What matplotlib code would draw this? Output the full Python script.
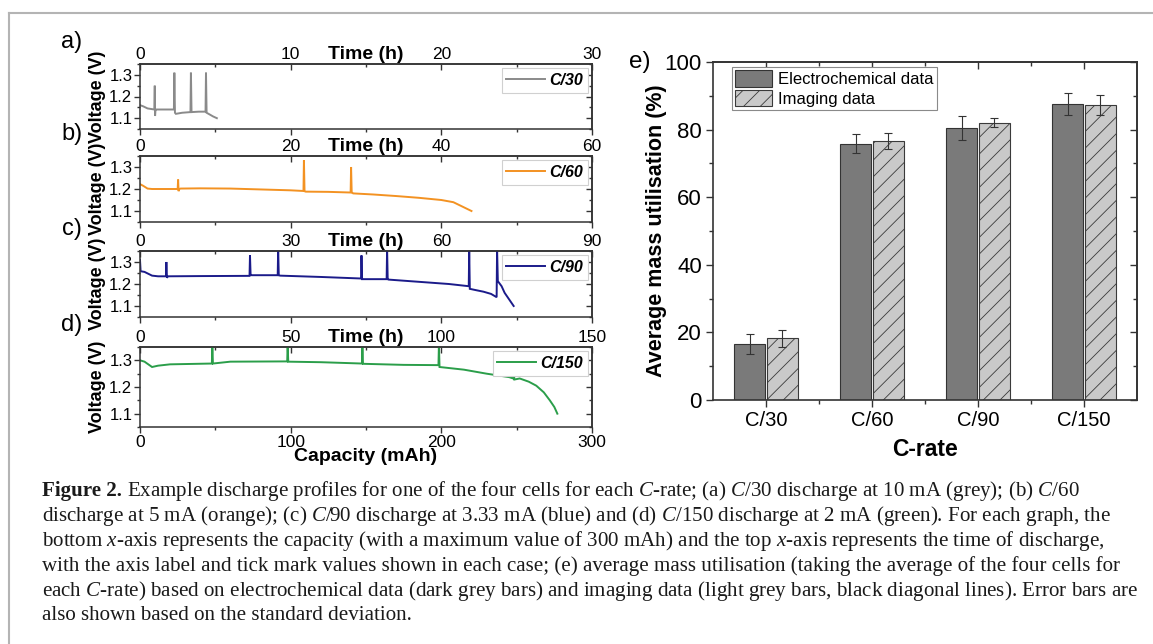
import matplotlib
matplotlib.use('Agg')
import matplotlib.pyplot as plt
from matplotlib.ticker import MultipleLocator, FixedLocator
from matplotlib.lines import Line2D

W, H, DPI = 1153, 644, 100

# ---------------- data ----------------
# (a) C/30
cap_a = [0, 2, 5, 9.5, 9.8, 10.0, 10.3, 11, 16, 22.5, 22.8, 23.2, 23.8, 28, 33.5, 33.8, 34.2, 39,
         43.5, 43.8, 44.2, 46, 48.5, 51]
v_a = [1.16, 1.155, 1.145, 1.14, 1.25, 1.11, 1.14, 1.14, 1.14, 1.14, 1.31, 1.125, 1.12, 1.125,
       1.128, 1.31, 1.128, 1.13, 1.13, 1.31, 1.125, 1.118, 1.108, 1.10]
# (b) C/60
cap_b = [0, 2, 5, 8, 25, 25.3, 25.6, 26.0, 27, 40, 60, 80, 100, 108.5, 108.8, 109.2, 110, 125,
         139.8, 140.1, 140.5, 141.5, 155, 170, 185, 200, 208, 214, 220]
v_b = [1.222, 1.215, 1.202, 1.200, 1.200, 1.243, 1.190, 1.200, 1.202, 1.203, 1.202, 1.198, 1.194,
       1.191, 1.33, 1.19, 1.188, 1.187, 1.184, 1.30, 1.185, 1.18, 1.175, 1.168, 1.16, 1.15, 1.14,
       1.12, 1.10]
# (c) C/90
cap_c = [0, 0.4, 3, 8, 12, 17.2, 17.5, 17.9, 18.5, 40, 72.7, 73.0, 73.4, 74, 91.4, 91.7, 92.1, 93,
         120, 146.7, 147.0, 147.4, 148, 163.7, 164.0, 164.4, 165, 185, 205, 218.2, 218.5, 218.9,
         223, 228, 233, 236.7, 237.0, 237.5, 240, 242, 244.5, 248]
v_c = [1.31, 1.258, 1.255, 1.238, 1.235, 1.235, 1.30, 1.228, 1.235, 1.236, 1.237, 1.33, 1.242,
       1.240, 1.240, 1.36, 1.240, 1.238, 1.232, 1.225, 1.33, 1.222, 1.222, 1.222, 1.36, 1.222, 1.22,
       1.21, 1.20, 1.19, 1.36, 1.178, 1.172, 1.165, 1.155, 1.14, 1.36, 1.213, 1.19, 1.16, 1.135, 1.10]
# (d) C/150
cap_d = [0, 3, 8, 12, 20, 47.7, 48.0, 48.4, 60, 97.7, 98.0, 98.4, 120, 147.3, 147.6, 148.0, 175,
         198.1, 198.4, 198.8, 215, 230, 245, 247.7, 248.0, 248.5, 252, 258, 263, 268, 272, 275, 277]
v_d = [1.30, 1.295, 1.275, 1.280, 1.285, 1.288, 1.36, 1.288, 1.295, 1.296, 1.36, 1.295, 1.293,
       1.288, 1.36, 1.287, 1.283, 1.282, 1.36, 1.275, 1.265, 1.25, 1.237, 1.232, 1.255, 1.228,
       1.232, 1.22, 1.205, 1.18, 1.15, 1.125, 1.10]

rate_labels = ['C/30', 'C/60', 'C/90', 'C/150']
hours_max = [30, 60, 90, 150]
time_ticks = [[0, 10, 20, 30], [0, 20, 40, 60], [0, 30, 60, 90], [0, 50, 100, 150]]
cap_ticks = [0, 100, 200, 300]
volt_ticks = [1.1, 1.2, 1.3]

categories = ['C/30', 'C/60', 'C/90', 'C/150']
electro = [16.5, 75.8, 80.5, 87.6]
electro_err = [2.9, 2.8, 3.5, 3.3]
imaging = [18.2, 76.7, 82.0, 87.3]
imaging_err = [2.5, 2.3, 1.3, 3.0]

caption_head = "Figure 2."
caption_lines = [
    r"Example discharge profiles for one of the four cells for each $\mathit{C}$-rate; (a) $\mathit{C}$/30 discharge at 10 mA (grey); (b) $\mathit{C}$/60",
    r"discharge at 5 mA (orange); (c) $\mathit{C}$/90 discharge at 3.33 mA (blue) and (d) $\mathit{C}$/150 discharge at 2 mA (green). For each graph, the",
    r"bottom $\mathit{x}$-axis represents the capacity (with a maximum value of 300 mAh) and the top $\mathit{x}$-axis represents the time of discharge,",
    r"with the axis label and tick mark values shown in each case; (e) average mass utilisation (taking the average of the four cells for",
    r"each $\mathit{C}$-rate) based on electrochemical data (dark grey bars) and imaging data (light grey bars, black diagonal lines). Error bars are",
    r"also shown based on the standard deviation.",
]

# ---------------- style ----------------
plt.rcParams['font.family'] = ['Liberation Sans', 'DejaVu Sans']
plt.rcParams['mathtext.fontset'] = 'custom'
plt.rcParams['mathtext.rm'] = 'Liberation Serif'
plt.rcParams['mathtext.it'] = 'Liberation Serif:italic'
plt.rcParams['mathtext.bf'] = 'Liberation Serif:bold'
plt.rcParams['hatch.linewidth'] = 0.6
SPINE = '#333333'
TL = 12  # tick label size, left panels

fig = plt.figure(figsize=(W / DPI, H / DPI), dpi=DPI)


def px_axes(l, t, r, b):
    return fig.add_axes([l / W, 1 - b / H, (r - l) / W, (b - t) / H])


# frame lines
fig.add_artist(Line2D([9 / W, 9 / W], [0, 1 - 13 / H], transform=fig.transFigure,
                      color='#b4b4b4', lw=1.5))
fig.add_artist(Line2D([9 / W, 1], [1 - 13 / H, 1 - 13 / H], transform=fig.transFigure,
                      color='#b4b4b4', lw=1.5))

curves = [(cap_a, v_a), (cap_b, v_b), (cap_c, v_c), (cap_d, v_d)]
colors = ['#8a8a8a', '#f39222', '#1b1b8a', '#2b9e4a']
boxes = [(140, 64, 592, 129), (140, 156, 592, 222), (140, 251, 592, 317), (140, 347, 592, 427)]
letters = ['a)', 'b)', 'c)', 'd)']

for i in range(4):
    l, t, r, b = boxes[i]
    ax = px_axes(l, t, r, b)
    cx, cv = curves[i]
    ax.plot(cx, cv, color=colors[i], lw=1.4, label=rate_labels[i], solid_joinstyle='miter')
    ax.set_xlim(0, 300)
    ax.set_ylim(1.05, 1.35)
    ax.set_xticks(cap_ticks)
    ax.xaxis.set_minor_locator(MultipleLocator(50))
    ax.set_yticks(volt_ticks)
    ax.yaxis.set_minor_locator(MultipleLocator(0.05))
    ax.tick_params(which='both', direction='out', top=False, right=False, labelsize=TL,
                   color=SPINE, width=1.0)
    ax.tick_params(which='major', length=4, pad=1.5)
    ax.tick_params(which='minor', length=2.5)
    for s in ax.spines.values():
        s.set_color(SPINE)
        s.set_linewidth(1.1)
    if i < 3:
        ax.set_xticklabels([])
    else:
        ax.tick_params(axis='x', labelsize=12.5)
        ax.set_xlabel('Capacity (mAh)', fontsize=14, fontweight='bold', labelpad=-1)
    ax.set_ylabel('Voltage (V)', fontsize=13, fontweight='bold', labelpad=2)

    s_ = 300.0 / hours_max[i]
    sec = ax.secondary_xaxis('top', functions=(lambda c, s_=s_: c / s_, lambda tt, s_=s_: tt * s_))
    sec.set_xticks(time_ticks[i])
    sec.xaxis.set_minor_locator(MultipleLocator(hours_max[i] / 6))
    sec.tick_params(which='both', direction='in', labelsize=12.5, color=SPINE, width=1.0)
    sec.tick_params(which='major', length=4, pad=1.5)
    sec.tick_params(which='minor', length=2.5)
    sec.spines['top'].set_color(SPINE)
    sec.spines['top'].set_linewidth(1.1)

    secy = ax.secondary_yaxis('right')
    secy.set_yticks(volt_ticks)
    secy.yaxis.set_minor_locator(MultipleLocator(0.05))
    secy.set_yticklabels([])
    secy.tick_params(which='both', direction='in', color=SPINE, width=1.0)
    secy.tick_params(which='major', length=4)
    secy.tick_params(which='minor', length=2.5)
    secy.spines['right'].set_color(SPINE)
    secy.spines['right'].set_linewidth(1.1)

    ax.annotate('Time (h)', xy=(0.5, 1.0), xycoords='axes fraction', xytext=(0, 1),
                textcoords='offset points', ha='center', va='bottom', fontsize=14,
                fontweight='bold')
    leg = ax.legend(loc='upper right', frameon=True, fancybox=False, edgecolor='#d0d0d0',
                    framealpha=1, handlelength=2.4, borderpad=0.3, borderaxespad=0.25,
                    handletextpad=0.3,
                    prop=dict(family='Liberation Sans', weight='bold', style='italic', size=11.5))
    leg.get_frame().set_linewidth(0.8)
    fig.text(72 / W, 1 - (t - 22) / H, letters[i], fontsize=17, ha='center', va='center')

# ---------------- panel e ----------------
axe = px_axes(713, 62, 1137, 400)
xpos = list(range(1, len(categories) + 1))
bw = 0.29
off = 0.155
axe.bar([x - off for x in xpos], electro, width=bw, color='#7a7a7a', edgecolor='#333333',
        linewidth=0.8, label='Electrochemical data', zorder=2)
axe.bar([x + off for x in xpos], imaging, width=bw, color='#c9c9c9', edgecolor='#3a3a3a',
        linewidth=0.8, hatch='//', label='Imaging data', zorder=2)
axe.errorbar([x - off for x in xpos], electro, yerr=electro_err, fmt='none', ecolor='#333333',
             elinewidth=0.8, capsize=3, capthick=0.8, zorder=3)
axe.errorbar([x + off for x in xpos], imaging, yerr=imaging_err, fmt='none', ecolor='#333333',
             elinewidth=0.8, capsize=3, capthick=0.8, zorder=3)
axe.set_xlim(0.5, 4.5)
axe.set_ylim(0, 100)
axe.set_xticks(xpos)
axe.set_xticklabels(categories, fontsize=14.5)
axe.xaxis.set_minor_locator(FixedLocator([1.5, 2.5, 3.5]))
axe.set_yticks([0, 20, 40, 60, 80, 100])
axe.yaxis.set_minor_locator(MultipleLocator(10))
axe.tick_params(axis='y', labelsize=16)
axe.tick_params(which='both', direction='out', top=False, right=False, color=SPINE, width=1.0)
axe.tick_params(which='major', length=5, pad=3)
axe.tick_params(which='minor', length=3)
for s in axe.spines.values():
    s.set_color(SPINE)
    s.set_linewidth(1.2)
axe.set_ylabel('Average mass utilisation (%)', fontsize=15.5, fontweight='bold', labelpad=-2)
axe.set_xlabel('C-rate', fontsize=16.5, fontweight='bold', labelpad=6)

st = axe.secondary_xaxis('top')
st.set_xticks(xpos)
st.xaxis.set_minor_locator(FixedLocator([1.5, 2.5, 3.5]))
st.set_xticklabels([])
st.tick_params(which='both', direction='in', color=SPINE, width=1.0)
st.tick_params(which='major', length=5)
st.tick_params(which='minor', length=3)
st.spines['top'].set_color(SPINE)
st.spines['top'].set_linewidth(1.2)
sr = axe.secondary_yaxis('right')
sr.set_yticks([0, 20, 40, 60, 80, 100])
sr.yaxis.set_minor_locator(MultipleLocator(10))
sr.set_yticklabels([])
sr.tick_params(which='both', direction='in', color=SPINE, width=1.0)
sr.tick_params(which='major', length=5)
sr.tick_params(which='minor', length=3)
sr.spines['right'].set_color(SPINE)
sr.spines['right'].set_linewidth(1.2)

lg = axe.legend(loc='upper left', bbox_to_anchor=(0.045, 0.985), fancybox=False,
                edgecolor='#8a8a8a', framealpha=1, fontsize=12, handlelength=2.2,
                handleheight=1.15, labelspacing=0.15, borderpad=0.2, handletextpad=0.35,
                borderaxespad=0)
lg.get_frame().set_linewidth(0.8)
fig.text(640 / W, 1 - 62 / H, 'e)', fontsize=17.5, ha='center', va='center')

# ---------------- caption ----------------
cap_y = [496, 521, 546, 571, 596, 620]
renderer = fig.canvas.get_renderer()
probe = fig.text(42 / W, 0.5, caption_lines[4], fontsize=13, family='Liberation Serif')
wpx = probe.get_window_extent(renderer).width
probe.remove()
cap_fs = 13 * 1095.0 / wpx
x0 = 42
for k, (line, y) in enumerate(zip(caption_lines, cap_y)):
    xs = x0
    if k == 0:
        head = fig.text(x0 / W, 1 - y / H, caption_head, fontsize=cap_fs,
                        family='Liberation Serif', fontweight='bold', ha='left',
                        va='baseline', color='#1a1a1a')
        xs = x0 + head.get_window_extent(renderer).width + cap_fs * DPI / 72 * 0.25
    fig.text(xs / W, 1 - y / H, line, fontsize=cap_fs, family='Liberation Serif',
             ha='left', va='baseline', color='#1a1a1a')

fig.savefig('out.png', dpi=DPI)
